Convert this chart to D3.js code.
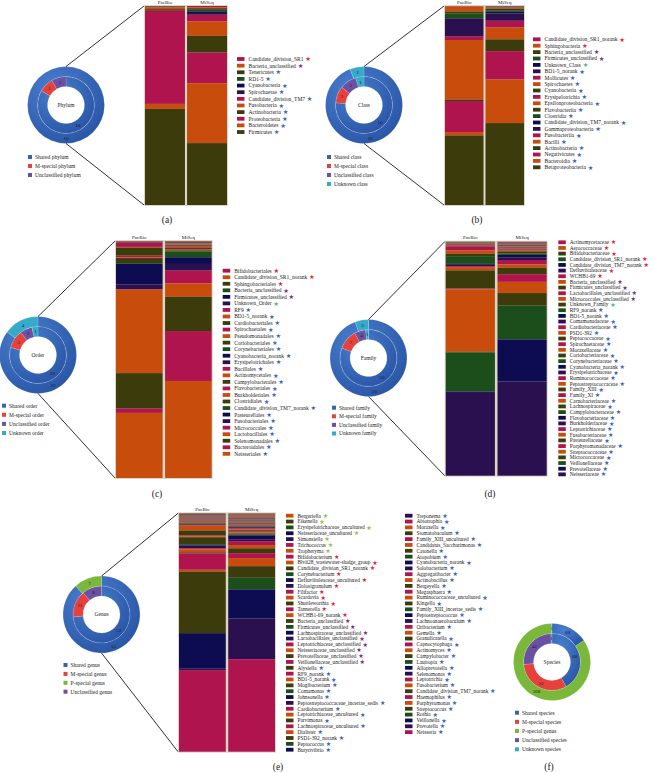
<!DOCTYPE html>
<html>
<head>
<meta charset="utf-8">
<script src="https://cdn.jsdelivr.net/npm/d3@7"></script>
<style>
body { margin: 0; background: #fff; }
svg text { font-family: "Liberation Serif", "DejaVu Serif", serif; fill: #1a1a1a; }
</style>
</head>
<body>
<svg id="fig" width="654" height="773"></svg>
<script>
// ---------- data ----------
// star type: M = M-special, P = P-special, U = unclassified, K = unknown, S = shared
var samples = ["PacBio", "MiSeq"];

var phylumNames = ["Candidate_division_SR1", "Bacteria_unclassified", "Tenericutes", "RD1-5", "Cyanobacteria",
    "Spirochaetae", "Candidate_division_TM7", "Fusobacteria", "Actinobacteria", "Proteobacteria", "Bacteroidetes", "Firmicutes"];
var phylumType = "MUSSSSSSSSSS";
var phylumPacBio = [0, 0, 0.2, 0, 0.1, 0.1, 0.2, 1.0, 0.8, 46.8, 2.5, 48.3];
var phylumMiSeq = [0.6, 0.5, 0.8, 0.8, 0.8, 0.9, 3.4, 7.2, 8.4, 15.4, 30.1, 31.1];

var classNames = ["Candidate_division_SR1_norank", "Sphingobacteria", "Bacteria_unclassified", "Firmicutes_unclassified",
    "Unknown_Class", "BD1-5_norank", "Mollicutes", "Spirochaetes", "Cyanobacteria", "Erysipelotrichia",
    "Epsilonproteobacteria", "Flavobacteriia", "Clostridia", "Candidate_division_TM7_norank", "Gammaproteobacteria",
    "Fusobacteriia", "Bacilli", "Actinobacteria", "Negativicutes", "Bacteroidia", "Betaproteobacteria"];
var classType = "MMUUKSSSSSSSSSSSSSSSS";
var classPacBio = [0, 0, 0, 0, 0, 0, 0.1, 0.1, 0.1, 0.1, 2.4, 0.9, 2.5, 0.3, 8.9, 1.7, 30.0, 0.7, 15.6, 1.7, 35.0];
var classMiSeq = [0.1, 0.1, 0.1, 0.1, 0.1, 0.1, 0.1, 0.1, 0.1, 0.1, 0.4, 0.7, 0.8, 0.8, 3.7, 3.4, 5.9, 5.9, 14.2, 21.8, 41.0];

var orderNames = ["Bifidobacteriales", "Candidate_division_SR1_norank", "Sphingobacteriales", "Bacteria_unclassified",
    "Firmicutes_unclassified", "Unknown_Order", "RF9", "BD1-5_norank", "Cardiobacteriales", "Spirochaetales",
    "Pseudomonadales", "Coriobacteriales", "Corynebacteriales", "Cyanobacteria_norank", "Erysipelotrichales",
    "Bacillales", "Actinomycetales", "Campylobacterales", "Flavobacteriales", "Burkholderiales", "Clostridiales",
    "Candidate_division_TM7_norank", "Pasteurellales", "Fusobacteriales", "Micrococcales", "Lactobacillales",
    "Selenomonadales", "Bacteroidales", "Neisseriales"];
var orderType = "MMMUUKSSSSSSSSSSSSSSSSSSSSSSS";
var orderPacBio = [0, 0, 0, 0, 0, 0, 0, 0, 0.1, 0.1, 0.1, 0.1, 0.1, 0.1, 0.1, 1.8, 0.3, 3.4, 0.7, 0.3, 2.1,
    0.3, 8.7, 2.1, 0.2, 35.2, 15.0, 1.8, 27.5];
var orderMiSeq = [0.15, 0.15, 0.15, 0.15, 0.15, 0.15, 0.15, 0.15, 0.15, 0.15, 0.15, 0.15, 0.15, 0.15, 0.15, 0.2,
    0.5, 0.4, 0.3, 0.3, 0.4, 2.5, 2.8, 2.8, 5.4, 5.6, 14.4, 21.0, 40.8];

var familyNames = ["Actinomycetaceae", "Aerococcaceae", "Bifidobacteriaceae", "Candidate_division_SR1_norank",
    "Candidate_division_TM7_norank", "Defluviitaleaceae", "WCHB1-69", "Bacteria_unclassified", "Firmicutes_unclassified",
    "Lactobacillales_unclassified", "Micrococcales_unclassified", "Unknown_Family", "RF9_norank", "BD1-5_norank",
    "Comamonadaceae", "Cardiobacteriaceae", "PSD1-392", "Peptococcaceae", "Spirochaetaceae", "Moraxellaceae",
    "Coriobacteriaceae", "Corynebacteriaceae", "Cyanobacteria_norank", "Erysipelotrichaceae", "Ruminococcaceae",
    "Peptostreptococcaceae", "Family_XIII", "Family_XI", "Carnobacteriaceae", "Lachnospiraceae", "Campylobacteraceae",
    "Flavobacteriaceae", "Burkholderiaceae", "Leptotrichiaceae", "Fusobacteriaceae", "Pasteurellaceae",
    "Porphyromonadaceae", "Streptococcaceae", "Micrococcaceae", "Veillonellaceae", "Prevotellaceae", "Neisseriaceae"];
var familyType = "MMMMMMMUUUUKSSSSSSSSSSSSSSSSSSSSSSSSSSSSSS";
var familyPacBio = [0, 0, 0, 0, 0, 0, 0, 0, 0, 0, 0, 0, 0.1, 0.1, 0.1, 0.1, 0.1, 0.1, 0.1, 0.1, 0.1, 0.1, 0.1, 0.1,
    0.2, 0.3, 0.3, 1.8, 1.4, 1.0, 3.3, 0.4, 0.6, 0.4, 1.4, 7.8, 0.3, 26.8, 0.3, 16.8, 0.2, 35.9];
var familyMiSeq = [0.1, 0.15, 0.1, 0.1, 0.2, 0.1, 0.15, 0.1, 0.1, 0.15, 0.1, 0.1, 0.1, 0.15, 0.1, 0.1, 0.15, 0.1,
    0.1, 0.15, 0.1, 0.1, 0.2, 0.1, 0.1, 0.15, 0.1, 0.4, 0.5, 0.9, 0.6, 1.2, 1.0, 1.9, 1.4, 2.8, 3.3, 4.8, 5.4, 14.5,
    18.0, 40.5];

var genusNames = ["Bergeriella", "Eikenella", "Erysipelotrichaceae_uncultured", "Neisseriaceae_uncultured",
    "Simonsiella", "Trichococcus", "Tropheryma", "Bifidobacterium", "Blvii28_wastewater-sludge_group",
    "Candidate_division_SR1_norank", "Corynebacterium", "Defluviitaleaceae_uncultured", "Dolosigranulum", "Filifactor",
    "Scardovia", "Shuttleworthia", "Tannerella", "WCHB1-69_norank", "Bacteria_unclassified", "Firmicutes_unclassified",
    "Lachnospiraceae_unclassified", "Lactobacillales_unclassified", "Leptotrichiaceae_unclassified",
    "Neisseriaceae_unclassified", "Prevotellaceae_unclassified", "Veillonellaceae_unclassified", "Alysiella",
    "RF9_norank", "BD1-5_norank", "Mogibacterium", "Comamonas", "Johnsonella", "Peptostreptococcaceae_incertae_sedis",
    "Cardiobacterium", "Leptotrichiaceae_uncultured", "Parvimonas", "Lachnospiraceae_uncultured", "Dialister",
    "PSD1-392_norank", "Peptococcus", "Butyrivibrio",
    "Treponema", "Abiotrophia", "Moraxella", "Stomatobaculum", "Family_XIII_uncultured", "Candidatus_Saccharimonas",
    "Catonella", "Atopobium", "Cyanobacteria_norank", "Solobacterium", "Aggregatibacter", "Actinobacillus",
    "Bergeyella", "Megasphaera", "Ruminococcaceae_uncultured", "Kingella", "Family_XIII_incertae_sedis",
    "Peptostreptococcus", "Lachnoanaerobaculum", "Oribacterium", "Gemella", "Granulicatella", "Capnocytophaga",
    "Actinomyces", "Campylobacter", "Lautropia", "Alloprevotella", "Selenomonas", "Leptotrichia", "Fusobacterium",
    "Candidate_division_TM7_norank", "Haemophilus", "Porphyromonas", "Streptococcus", "Rothia", "Veillonella",
    "Prevotella", "Neisseria"];
var genusType = "PPPPPPPMMMMMMMMMMMUUUUUUUU" + "SSSSSSSSSSSSSSS" + "SSSSSSSSSSSSSSSSSSSSSSSSSSSSSSSSSSSSSS";
var genusPacBio = [0.15, 0.15, 0.1, 0.15, 0.1, 0.1, 0.15, 0, 0, 0, 0, 0, 0, 0, 0, 0, 0, 0,
    0.05, 0.05, 0.05, 0.05, 0.05, 0.05, 0.05, 0.05, 0.05, 0.05, 0.05, 0.05, 0.05,
    0.1, 0.1, 0.1, 0.1, 0.1, 0.1, 0.1, 0.1, 0.1, 0.1,
    0.1, 0.1, 0.1, 0.1, 0.1, 0.1, 0.1, 0.1, 0.1, 0.1, 0.15, 0.15, 0.15, 0.1, 0.1, 0.2, 0.2, 0.2, 0.2, 0.3,
    2.1, 2.1, 0.4, 0.4, 2.9, 0.3, 0.4, 1.2, 0.4, 1.3, 0.4, 7.1, 0.8, 26.4, 0.05, 15.3, 0.6, 35.1];
var genusMiSeq = [0, 0, 0, 0, 0, 0, 0, 0.1, 0.05, 0.1, 0.1, 0.05, 0.1, 0.1, 0.1, 0.05, 0.1, 0.1,
    0.1, 0.1, 0.1, 0.1, 0.1, 0.15, 0.1, 0.1, 0.1, 0.1, 0.1, 0.1, 0.1,
    0.1, 0.1, 0.1, 0.1, 0.15, 0.1, 0.1, 0.1, 0.1, 0.1,
    0.1, 0.1, 0.1, 0.1, 0.1, 0.15, 0.1, 0.15, 0.15, 0.1, 0.15, 0.1, 0.15, 0.4, 0.1, 0.3, 0.2, 0.3, 0.3, 0.4,
    0.4, 0.5, 0.4, 0.5, 0.4, 0.4, 1.7, 0.8, 1.7, 1.4, 2.1, 2.1, 3.5, 5.0, 5.0, 12.6, 17.5, 39.9];

// donut counts: inner ring / outer ring, by group
var phylumGroups = ["shared", "mspecial", "unclassified"];
var phylumInner = [10, 1, 1];
var phylumOuter = [10, 0, 0];
var classGroups = ["shared", "mspecial", "unclassified", "unknown"];
var classInner = [16, 2, 2, 1];
var classOuter = [16, 0, 0, 1];
var orderGroups = ["shared", "mspecial", "unclassified", "unknown"];
var orderInner = [23, 3, 2, 1];
var orderOuter = [23, 0, 0, 4];
var familyGroups = ["shared", "mspecial", "unclassified", "unknown"];
var familyInner = [50, 7, 4, 1];
var familyOuter = [50, 0, 0, 3];
var genusGroups = ["shared", "mspecial", "pspecial", "unclassified"];
var genusInner = [53, 11, 0, 8];
var genusOuter = [53, 0, 7, 0];
var speciesGroups = ["shared", "mspecial", "pspecial", "unclassified", "unknown"];
var speciesInner = [68, 52, 0, 42, 1];
var speciesOuter = [68, 0, 368, 0, 1];

var phylumLegend = ["Shared phylum", "M-special phylum", "Unclassified phylum"];
var classLegend = ["Shared class", "M-special class", "Unclassified class", "Unknown class"];
var orderLegend = ["Shared order", "M-special order", "Unclassified order", "Unknown order"];
var familyLegend = ["Shared family", "M-special family", "Unclassified family", "Unknown family"];
var genusLegend = ["Shared genus", "M-special genus", "P-special genus", "Unclassified genus"];
var speciesLegend = ["Shared species", "M-special species", "P-special genus", "Unclassified species", "Unknown species"];

// ---------- styles ----------
var palette = {m: "#b0144f", o: "#c84d0c", l: "#3c3b0c", g: "#1b4e1a", n: "#0d0c50", p: "#2b1050"};
var starColor = {M: "#e3262b", U: "#7a2b8b", K: "#52b97e", P: "#8cc63f", S: "#3a62c2"};
var groupColor = {shared: "url(#blueGrad)", mspecial: "#e6413c", pspecial: "#7ab83b", unclassified: "#6b51a2", unknown: "#36abc9"};
var groupSwatch = {shared: "#3465b4", mspecial: "#e6413c", pspecial: "#7ab83b", unclassified: "#6b51a2", unknown: "#36abc9"};
var cyc = "molmolgnp";
var phylumColors = "molgnp" + "molmol";
var classColors = "molgnp" + cyc + "molmol";
var orderColors = "molgnp" + cyc + cyc + "molmo";
var familyColors = "molgnp" + cyc + cyc + cyc + cyc;
var genusColors = "olgnpmo" + "molgnp" + "molmolgnp" + "mol" + "ml" + "molgnp" + "molmolgn" +
    "pmol" + "molgnp" + cyc + cyc + cyc + "m";

var svg = d3.select("#fig");
var R0 = 18.5, R1 = 28.5, R2 = 38.5;

var defs = svg.append("defs");
var grad = defs.append("radialGradient").attr("id", "blueGrad")
    .attr("cx", "35%").attr("cy", "30%").attr("r", "80%");
grad.append("stop").attr("offset", "0%").attr("stop-color", "#4a7fcf");
grad.append("stop").attr("offset", "100%").attr("stop-color", "#2853a3");

function drawDonut(cfg) {
    var g = svg.append("g").attr("transform", "translate(" + cfg.cx + "," + cfg.cy + ")");
    var pie = d3.pie().sort(null).value(function(d) { return d.v; });
    var rings = [{vals: cfg.inner, r0: R0, r1: R1}, {vals: cfg.outer, r0: R1, r1: R2}];
    rings.forEach(function(ring) {
        var arc = d3.arc().innerRadius(ring.r0).outerRadius(ring.r1);
        var slices = pie(cfg.groups.map(function(k, i) { return {k: k, v: ring.vals[i]}; }));
        g.selectAll(null).data(slices.filter(function(d) { return d.data.v > 0; })).enter()
            .append("path")
            .attr("d", arc)
            .attr("fill", function(d) { return groupColor[d.data.k]; })
            .attr("stroke", "#ffffff")
            .attr("stroke-opacity", 0.35)
            .attr("stroke-width", 0.4);
        g.selectAll(null).data(slices.filter(function(d) { return d.data.v > 0; })).enter()
            .append("text")
            .attr("transform", function(d) { return "translate(" + arc.centroid(d) + ")"; })
            .attr("text-anchor", "middle")
            .attr("dy", "0.35em")
            .style("font-size", "5px")
            .text(function(d) { return d.data.v; });
    });
    g.append("text").attr("text-anchor", "middle").attr("dy", "0.35em")
        .style("font-size", "5.5px").text(cfg.title);

    var lg = svg.append("g");
    cfg.legend.forEach(function(t, i) {
        var y = cfg.lgY + i * cfg.lgDy;
        lg.append("rect").attr("x", cfg.lgX).attr("y", y - 2).attr("width", 4).attr("height", 4)
            .attr("fill", groupSwatch[cfg.groups[i]]);
        lg.append("text").attr("x", cfg.lgX + 7).attr("y", y).attr("dy", "0.35em")
            .style("font-size", "5.5px").text(t);
    });
}

function drawBars(cfg) {
    var g = svg.append("g");
    var n = cfg.names.length;
    var keys = d3.range(n);
    var table = samples.map(function(s, j) {
        var row = {sample: s};
        var vals = j === 0 ? cfg.pacbio : cfg.miseq;
        keys.forEach(function(k) { row[k] = vals[k]; });
        return row;
    });
    var series = d3.stack().keys(keys).offset(d3.stackOffsetExpand)(table);
    var x = d3.scaleBand().domain(samples).range([cfg.x0, cfg.x1]).paddingInner(0.05);
    var y = d3.scaleLinear().domain([0, 1]).range([cfg.y0, cfg.y1]);

    g.append("rect").attr("x", cfg.x0 - 1).attr("y", cfg.y0 - 1)
        .attr("width", cfg.x1 - cfg.x0 + 2).attr("height", cfg.y1 - cfg.y0 + 2)
        .attr("fill", "#dcd6c6");

    series.forEach(function(s) {
        g.selectAll(null).data(s).enter().append("rect")
            .attr("x", function(d) { return x(d.data.sample); })
            .attr("width", x.bandwidth())
            .attr("y", function(d) { return y(d[0]); })
            .attr("height", function(d) { return Math.max(0, y(d[1]) - y(d[0])); })
            .attr("fill", palette[cfg.colors[s.key]]);
    });

    samples.forEach(function(s) {
        g.append("text").attr("x", x(s) + x.bandwidth() / 2).attr("y", cfg.y0 - 2.5)
            .attr("text-anchor", "middle").style("font-size", "5px").text(s);
    });

    // zoom lines from donut to bars
    g.append("line").attr("x1", cfg.cx).attr("y1", cfg.cy - R2).attr("x2", cfg.x0 - 1).attr("y2", cfg.y0)
        .attr("stroke", "#1a1a1a").attr("stroke-width", 0.9);
    g.append("line").attr("x1", cfg.cx).attr("y1", cfg.cy + R2).attr("x2", cfg.x0 - 1).attr("y2", cfg.y1)
        .attr("stroke", "#1a1a1a").attr("stroke-width", 0.9);

    // legend (one or more columns)
    cfg.cols.forEach(function(col) {
        d3.range(col.start, col.start + col.count).forEach(function(i) {
            var yy = col.y + (i - col.start) * cfg.dy;
            g.append("rect").attr("x", col.x).attr("y", yy - 1.9).attr("width", 7.5).attr("height", 3.8)
                .attr("fill", palette[cfg.colors[i]]);
            var t = g.append("text").attr("x", col.x + 11.5).attr("y", yy).attr("dy", "0.35em")
                .style("font-size", cfg.fs + "px").text(cfg.names[i]);
            var w = t.node().getComputedTextLength();
            g.append("text").attr("x", col.x + 11.5 + w + 1.8).attr("y", yy).attr("dy", "0.35em")
                .style("font-size", (cfg.fs + 0.8) + "px").style("fill", starColor[cfg.type[i]])
                .style("font-family", "DejaVu Sans").text("\u2605");
        });
    });
}

function panelLabel(t, x, y) {
    svg.append("text").attr("x", x).attr("y", y).attr("text-anchor", "middle")
        .style("font-size", "9.5px").text(t);
}

// (a) phylum
drawDonut({cx: 66, cy: 105, groups: phylumGroups, inner: phylumInner, outer: phylumOuter, title: "Phylum",
    legend: phylumLegend, lgX: 28, lgY: 157, lgDy: 9});
drawBars({names: phylumNames, type: phylumType, pacbio: phylumPacBio, miseq: phylumMiSeq, colors: phylumColors,
    x0: 145, x1: 227, y0: 6, y1: 205, cx: 66, cy: 105, dy: 6.64, fs: 5.5,
    cols: [{start: 0, count: 12, x: 237, y: 59}]});
panelLabel("(a)", 167, 223);

// (b) class
drawDonut({cx: 364, cy: 105, groups: classGroups, inner: classInner, outer: classOuter, title: "Class",
    legend: classLegend, lgX: 327, lgY: 157, lgDy: 9});
drawBars({names: classNames, type: classType, pacbio: classPacBio, miseq: classMiSeq, colors: classColors,
    x0: 445, x1: 524, y0: 6, y1: 205, cx: 364, cy: 105, dy: 6.4, fs: 5.5,
    cols: [{start: 0, count: 21, x: 533, y: 39.3}]});
panelLabel("(b)", 477, 223);

// (c) order
drawDonut({cx: 38, cy: 355, groups: orderGroups, inner: orderInner, outer: orderOuter, title: "Order",
    legend: orderLegend, lgX: 2, lgY: 405.7, lgDy: 9.1});
drawBars({names: orderNames, type: orderType, pacbio: orderPacBio, miseq: orderMiSeq, colors: orderColors,
    x0: 116, x1: 211.7, y0: 241, y1: 478, cx: 38, cy: 355, dy: 6.54, fs: 5.5,
    cols: [{start: 0, count: 29, x: 222.7, y: 270.7}]});
panelLabel("(c)", 157, 497);

// (d) family
drawDonut({cx: 368.5, cy: 358, groups: familyGroups, inner: familyInner, outer: familyOuter, title: "Family",
    legend: familyLegend, lgX: 332, lgY: 407.7, lgDy: 8.6});
drawBars({names: familyNames, type: familyType, pacbio: familyPacBio, miseq: familyMiSeq, colors: familyColors,
    x0: 445.7, x1: 546.7, y0: 241.7, y1: 475.7, cx: 368.5, cy: 358, dy: 5.66, fs: 5.3,
    cols: [{start: 0, count: 42, x: 558.3, y: 242.3}]});
panelLabel("(d)", 490, 497);

// (e) genus
drawDonut({cx: 101.5, cy: 614.5, groups: genusGroups, inner: genusInner, outer: genusOuter, title: "Genus",
    legend: genusLegend, lgX: 63.5, lgY: 665, lgDy: 8.9});
drawBars({names: genusNames, type: genusType, pacbio: genusPacBio, miseq: genusMiSeq, colors: genusColors,
    x0: 179, x1: 275, y0: 513.3, y1: 751.7, cx: 101.5, cy: 614.5, dy: 5.85, fs: 5.3,
    cols: [{start: 0, count: 41, x: 286, y: 515.7}, {start: 41, count: 38, x: 405, y: 515.7}]});
panelLabel("(e)", 278, 770);

// (f) species
drawDonut({cx: 552, cy: 662, groups: speciesGroups, inner: speciesInner, outer: speciesOuter, title: "Species",
    legend: speciesLegend, lgX: 515, lgY: 712.7, lgDy: 9.15});
panelLabel("(f)", 549, 770);
</script>
</body>
</html>
